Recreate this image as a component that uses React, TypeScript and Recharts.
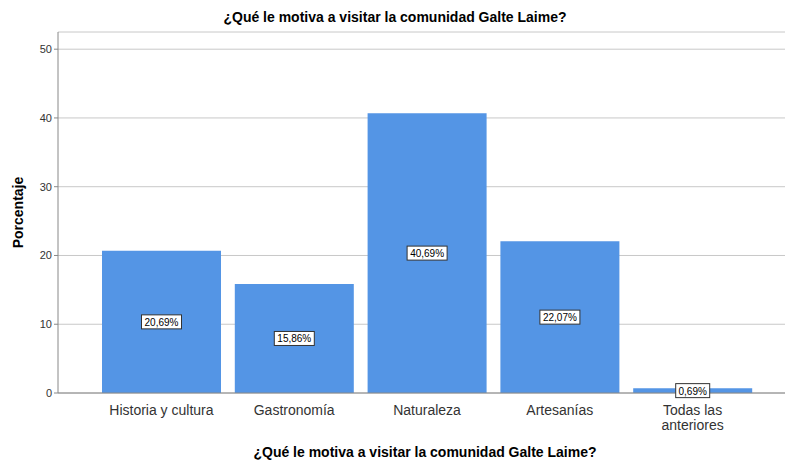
import React from 'react';
import { BarChart, Bar, XAxis, YAxis, CartesianGrid, LabelList, Label } from 'recharts';

const categories = ['Historia y cultura', 'Gastronomía', 'Naturaleza', 'Artesanías', 'Todas las anteriores'];
const percentages = [20.69, 15.86, 40.69, 22.07, 0.69];
const yTicks = [0, 10, 20, 30, 40, 50];

const data = categories.map((name, i) => ({ name, value: percentages[i] }));

const FONT = 'Arial, "Liberation Sans", sans-serif';

const CategoryTick = (props: any) => {
  const { x, y, payload } = props;
  const lines: string[] = payload.value === 'Todas las anteriores' ? ['Todas las', 'anteriores'] : [payload.value];
  return (
    <g>
      {lines.map((line, i) => (
        <text
          key={i}
          x={x}
          y={y + 14 + i * 15}
          textAnchor="middle"
          fontSize={14}
          fontFamily={FONT}
          fill="#333"
        >
          {line}
        </text>
      ))}
    </g>
  );
};

const ValueBox = (props: any) => {
  const { x, y, width, height, value } = props;
  const text = value.toFixed(2).replace('.', ',') + '%';
  const cx = x + width / 2;
  const cy = y + height / 2;
  const w = text.length * 6 + 4;
  return (
    <g>
      <rect x={cx - w / 2} y={cy - 7} width={w} height={14} fill="#fff" stroke="#333" strokeWidth={1} />
      <text x={cx} y={cy + 4} textAnchor="middle" fontSize={10} fontFamily={FONT} fill="#000">
        {text}
      </text>
    </g>
  );
};

export default function App() {
  return (
    <div style={{ position: 'absolute', left: 0, top: 0, width: 790, height: 460, background: '#fff', fontFamily: FONT }}>
      <div style={{ position: 'absolute', top: 9, left: 0, width: 790, textAlign: 'center', fontSize: 14, fontWeight: 'bold', color: '#000' }}>
        ¿Qué le motiva a visitar la comunidad Galte Laime?
      </div>
      <div style={{ position: 'absolute', top: 444, left: 30, width: 790, textAlign: 'center', fontSize: 14, fontWeight: 'bold', color: '#000' }}>
        ¿Qué le motiva a visitar la comunidad Galte Laime?
      </div>
      <BarChart
        width={790}
        height={460}
        data={data}
        margin={{ top: 32, right: 5, bottom: 37, left: 0 }}
        barCategoryGap={7}
      >
        <CartesianGrid vertical={false} stroke="#c8c8c8" />
        <XAxis
          dataKey="name"
          height={30}
          tick={<CategoryTick />}
          tickLine={false}
          axisLine={{ stroke: '#888' }}
          interval={0}
          padding={{ left: 37, right: 26 }}
        />
        <YAxis
          width={58}
          domain={[0, 52.5]}
          ticks={yTicks}
          tick={{ fontSize: 11, fill: '#333', fontFamily: FONT }}
          tickLine={{ stroke: '#888' }}
          tickSize={4}
          axisLine={{ stroke: '#888' }}
        >
          <Label
            value="Porcentaje"
            angle={-90}
            position="insideLeft"
            offset={18}
            style={{ fontSize: 14, fontWeight: 'bold', fill: '#000', fontFamily: FONT, textAnchor: 'middle' }}
          />
        </YAxis>
        <Bar dataKey="value" fill="#5495e5" isAnimationActive={false}>
          <LabelList dataKey="value" content={<ValueBox />} />
        </Bar>
      </BarChart>
    </div>
  );
}
